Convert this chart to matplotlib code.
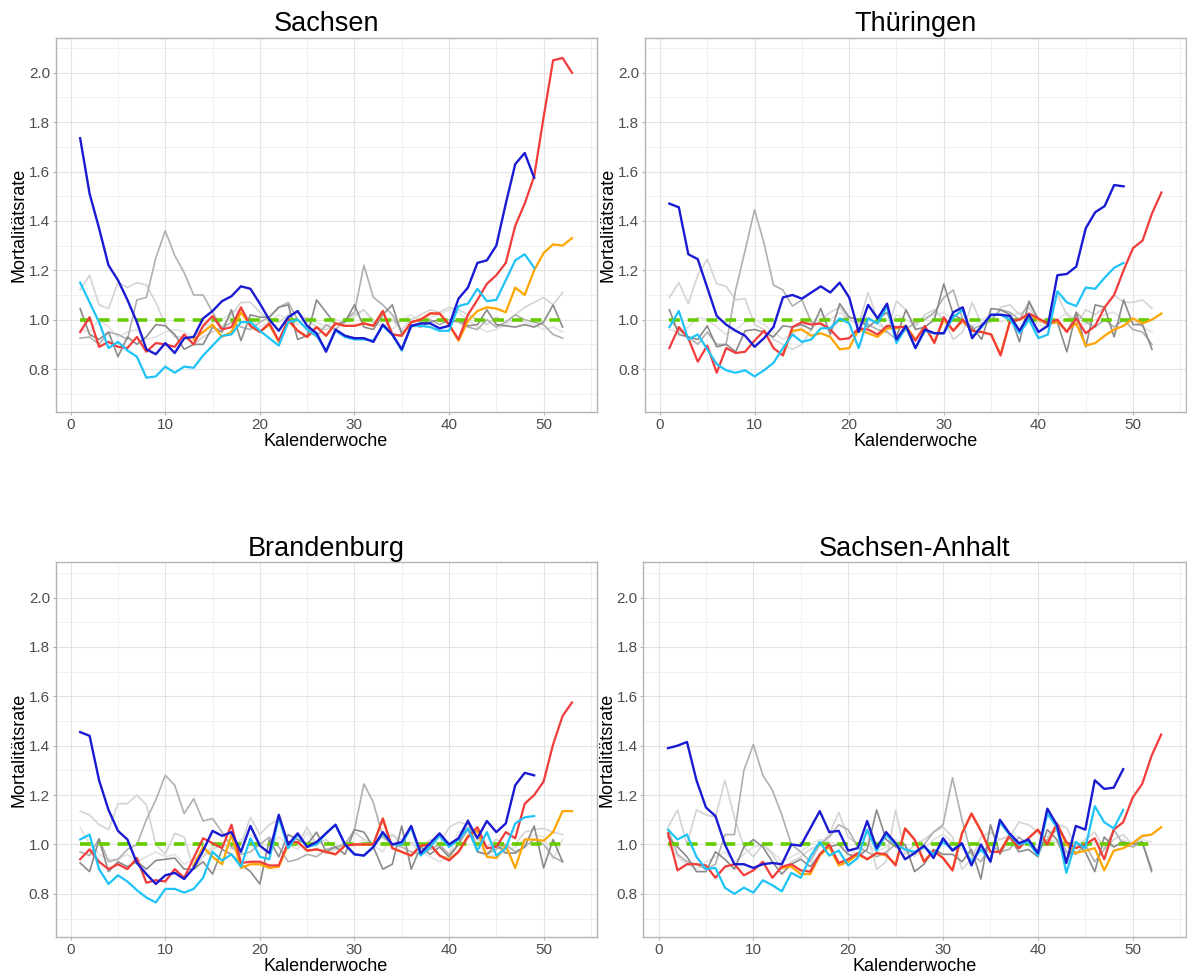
import numpy as np
import matplotlib
matplotlib.use("Agg")
import matplotlib.pyplot as plt

plt.rcParams['font.family'] = ['Liberation Sans', 'DejaVu Sans']

# ---- Sachsen ----
s_blue = [1.735,1.51,1.37,1.22,1.16,1.08,0.99,0.88,0.86,0.905,
          0.865,0.925,0.93,1.005,1.035,1.075,1.095,1.135,1.125,1.065,
          1.0,0.955,1.01,1.035,0.975,0.945,0.87,0.96,0.935,0.925,
          0.925,0.91,0.98,0.94,0.88,0.975,0.985,0.985,0.965,0.975,
          1.085,1.13,1.23,1.24,1.30,1.47,1.63,1.675,1.575]
s_cyan = [1.15,1.07,0.99,0.885,0.91,0.875,0.85,0.765,0.77,0.81,
          0.785,0.81,0.805,0.855,0.895,0.935,0.94,0.99,0.99,0.955,
          0.925,0.895,0.99,1.0,0.96,0.935,0.875,0.955,0.93,0.92,
          0.92,0.915,0.975,0.94,0.875,0.975,0.975,0.97,0.955,0.955,
          1.055,1.065,1.125,1.075,1.08,1.16,1.24,1.265,1.21]
s_red = [0.95,1.01,0.89,0.91,0.89,0.885,0.93,0.87,0.905,0.9,
         0.89,0.94,0.9,0.975,1.015,0.96,0.97,1.05,0.975,0.95,
         0.985,0.915,1.0,0.955,0.93,0.97,0.935,0.985,0.975,0.975,
         0.985,0.975,1.035,0.94,0.935,0.99,1.0,1.025,1.025,0.98,
         0.92,1.02,1.08,1.145,1.18,1.23,1.38,1.47,1.58,1.82,
         2.05,2.06,2.0]
s_orange = [0.92,0.95,0.98,0.93,0.95,1.03,0.975,0.95,0.98,0.91,
            0.995,0.955,0.93,0.97,0.935,0.985,0.975,0.975,0.985,0.975,
            1.035,0.94,0.935,0.99,1.0,1.025,1.025,0.98,0.915,0.995,
            1.035,1.05,1.045,1.03,1.13,1.10,1.20,1.27,1.305,1.30,1.33]
s_grey1 = [1.12,1.18,1.06,1.045,1.15,1.13,1.15,1.14,1.07,0.98,
           0.93,0.93,0.9,0.93,0.95,0.97,1.02,1.07,1.07,1.03,
           1.0,0.99,1.02,1.03,1.0,0.97,0.96,0.98,1.0,1.02,
           1.04,0.99,0.97,1.0,0.96,1.0,1.02,1.04,1.03,1.05,
           1.04,1.02,1.0,0.98,1.01,0.99,1.02,1.05,1.07,1.09,1.06,1.11]
s_grey2 = [0.925,0.93,0.9,0.95,0.94,0.92,1.08,1.09,1.25,1.36,
           1.26,1.19,1.1,1.1,1.03,0.965,0.99,0.97,0.96,0.99,
           1.01,1.05,1.07,1.0,0.96,0.93,0.98,0.96,1.0,1.03,
           1.22,1.09,1.06,1.02,0.95,0.97,0.98,1.0,0.98,1.0,
           0.99,0.97,0.96,1.0,0.97,0.99,1.02,1.0,0.99,0.98,0.94,0.925]
s_grey3 = [1.045,0.94,0.92,0.95,0.85,0.93,0.9,0.93,0.98,0.975,
           0.94,0.88,0.9,0.9,0.97,0.95,1.04,0.915,1.02,1.01,
           1.01,1.05,1.06,0.92,0.935,1.08,1.03,0.98,0.99,1.06,
           0.97,0.96,1.02,1.06,0.94,0.98,0.97,0.99,1.0,0.985,
           1.0,0.975,0.98,1.04,0.98,0.975,0.97,0.98,0.97,0.99,1.06,0.97]
s_grey4 = [0.96,0.95,1.0,0.97,0.93,0.95,0.96,0.92,0.93,0.95,
           0.96,0.95,0.93,0.97,0.99,1.0,1.03,1.04,1.0,0.97,
           0.99,1.02,1.0,0.98,1.01,0.99,0.97,1.0,0.99,1.01,
           1.04,1.0,0.98,0.96,1.0,1.02,0.99,1.01,1.02,1.04,
           1.03,1.0,0.97,0.95,0.96,0.98,1.0,0.99,0.98,0.96,0.97,0.95]

# ---- Thüringen ----
t_blue = [1.47,1.455,1.265,1.245,1.13,1.015,0.98,0.955,0.935,0.89,
          0.925,0.97,1.09,1.10,1.085,1.11,1.135,1.11,1.15,1.09,
          0.95,1.06,1.005,1.065,0.92,0.975,0.885,0.96,0.945,0.945,
          1.03,1.05,0.925,0.975,1.02,1.02,1.015,0.955,1.02,0.95,
          0.975,1.18,1.185,1.215,1.37,1.435,1.46,1.545,1.54]
t_cyan = [0.97,1.035,0.92,0.94,0.88,0.82,0.795,0.785,0.795,0.77,
          0.795,0.825,0.885,0.94,0.91,0.92,0.965,0.965,1.005,0.985,
          0.885,1.005,0.985,1.055,0.905,0.97,0.885,0.955,0.945,0.945,
          1.01,1.04,0.93,0.97,1.02,1.02,1.0,0.945,1.0,0.925,
          0.94,1.115,1.07,1.055,1.13,1.125,1.17,1.21,1.23]
t_red = [0.885,0.97,0.925,0.83,0.895,0.785,0.885,0.865,0.87,0.915,
         0.955,0.885,0.855,0.97,0.99,0.98,0.985,0.96,0.92,0.925,
         0.965,0.96,0.94,0.975,0.97,0.97,0.915,0.975,0.905,1.01,
         0.955,1.0,0.955,0.95,0.94,0.855,0.995,1.0,1.025,1.005,
         0.985,1.0,0.95,1.005,0.945,0.975,1.05,1.1,1.2,1.29,
         1.32,1.43,1.515]
t_orange = [0.86,0.955,0.96,0.935,0.945,0.93,0.88,0.885,0.96,0.945,
            0.93,0.965,0.965,0.975,0.92,0.97,0.91,1.0,0.955,0.995,
            0.955,0.95,0.94,0.86,0.995,1.0,1.02,1.0,0.985,0.99,
            0.955,0.985,0.895,0.905,0.935,0.96,0.975,1.005,0.985,1.0,1.025]
t_grey1 = [1.09,1.15,1.065,1.18,1.245,1.145,1.135,1.08,1.085,0.98,
           0.96,0.92,0.9,0.88,0.9,0.96,1.0,1.03,1.05,1.0,
           0.98,1.11,1.0,0.95,1.075,1.04,0.97,1.02,1.04,1.0,
           0.92,0.95,1.07,0.98,0.99,1.05,1.06,1.02,1.05,0.99,
           1.0,1.1,1.02,0.98,1.04,1.02,1.05,1.1,1.07,1.07,1.08,1.045]
t_grey2 = [1.0,0.96,0.93,0.9,0.95,0.9,0.9,1.12,1.28,1.445,
           1.31,1.14,1.12,1.055,1.08,0.99,0.98,0.96,1.0,1.01,
           1.0,0.98,0.96,0.95,0.92,0.96,0.99,1.0,1.03,1.09,
           1.12,1.0,0.96,0.98,1.0,1.04,1.03,1.0,1.07,1.0,
           0.98,1.0,0.95,1.03,0.99,0.97,1.0,0.97,1.0,0.96,0.95,0.9]
t_grey3 = [1.04,0.94,0.93,0.92,0.975,0.89,0.9,0.87,0.955,0.96,
           0.95,0.93,0.975,0.97,0.98,0.96,1.045,0.94,1.065,1.01,
           1.0,0.97,1.0,1.03,0.93,1.04,0.96,0.97,1.0,1.145,
           1.02,1.0,0.97,0.92,1.045,1.04,1.02,0.91,1.075,1.0,
           0.98,0.99,0.87,1.03,0.89,1.06,1.05,0.93,1.08,0.98,0.98,0.88]
t_grey4 = [0.96,0.95,0.97,1.01,1.0,0.97,0.94,0.96,0.99,1.0,
           0.98,0.95,0.92,0.94,0.97,0.99,1.02,1.0,1.03,1.0,
           0.99,1.01,0.98,0.96,1.02,1.0,0.98,1.01,1.02,1.03,
           1.0,0.98,0.97,1.0,1.02,0.99,1.01,1.03,1.0,0.98,
           0.97,1.0,1.03,0.99,0.98,1.0,1.02,1.03,1.0,1.0,0.97,0.95]

# ---- Brandenburg ----
b_blue = [1.455,1.44,1.26,1.14,1.055,1.02,0.925,0.88,0.84,0.875,
          0.885,0.86,0.905,0.975,1.055,1.035,1.05,0.97,1.075,0.995,
          0.965,1.12,1.0,1.045,0.99,1.01,1.045,1.08,1.0,0.96,
          0.955,0.99,1.05,1.0,1.01,1.075,0.965,1.005,1.045,1.0,
          1.025,1.095,1.025,1.095,1.05,1.085,1.24,1.29,1.28]
b_cyan = [1.02,1.04,0.9,0.84,0.875,0.85,0.815,0.785,0.765,0.82,
          0.82,0.805,0.82,0.865,0.97,0.935,0.96,0.91,1.025,0.95,
          0.94,1.11,0.985,1.04,0.99,1.0,1.045,1.08,1.0,0.96,
          0.955,0.99,1.045,1.0,1.0,1.07,0.955,0.99,1.035,0.99,
          1.02,1.065,0.975,1.05,0.955,0.985,1.085,1.11,1.115]
b_red = [0.94,0.98,0.93,0.9,0.92,0.9,0.945,0.845,0.855,0.85,
         0.9,0.865,0.945,1.025,1.005,0.985,1.08,0.925,0.93,0.93,
         0.915,0.915,1.01,1.01,0.975,0.98,0.97,0.96,0.995,1.0,
         1.0,1.0,1.105,0.985,0.97,0.955,0.995,1.0,0.955,0.935,
         0.97,1.03,1.07,0.985,0.99,1.05,1.025,1.165,1.2,1.255,
         1.405,1.52,1.575]
b_orange = [0.915,0.99,0.95,0.92,1.04,0.905,0.92,0.92,0.905,0.91,
            1.0,1.01,0.975,0.98,0.97,0.96,0.995,1.0,1.0,1.0,
            1.105,0.985,0.97,0.955,0.995,1.0,0.955,0.94,0.97,1.035,
            1.055,0.95,0.945,0.995,0.905,1.02,1.02,1.015,1.05,1.135,1.135]
b_grey1 = [1.135,1.12,1.08,1.06,1.165,1.165,1.2,1.16,1.0,0.96,
           1.045,1.03,0.9,0.95,0.98,1.0,0.99,1.0,1.11,1.04,
           1.08,1.1,0.99,1.0,1.07,1.0,1.02,0.98,1.0,1.05,
           1.02,1.0,1.03,1.04,1.0,1.01,0.98,1.02,1.0,1.07,
           1.09,1.08,1.02,0.99,1.02,1.0,1.0,1.05,1.06,1.065,1.05,1.04]
b_grey2 = [0.97,0.955,1.025,0.93,0.94,0.98,1.0,1.1,1.18,1.28,
           1.24,1.125,1.185,1.095,1.105,1.05,0.99,0.96,0.97,1.0,
           1.03,0.99,0.93,0.94,0.96,0.95,0.98,0.99,1.0,1.06,
           1.245,1.17,1.03,1.0,0.99,0.97,0.96,0.98,1.0,0.96,
           1.0,1.06,0.97,0.96,0.98,1.0,0.97,0.99,1.02,1.0,0.95,0.93]
b_grey3 = [0.925,0.89,1.02,0.89,0.93,0.91,0.93,0.9,0.935,0.94,
           0.945,0.9,0.9,0.93,0.88,0.98,0.96,0.92,0.89,0.84,
           1.02,0.95,1.04,1.02,1.0,1.05,0.97,0.99,0.96,1.06,
           1.05,0.99,0.9,0.92,1.075,0.9,0.99,0.96,0.99,0.95,
           1.0,1.1,0.97,0.96,1.0,0.965,0.965,0.99,1.075,0.905,1.02,0.93]
b_grey4 = [1.07,1.0,0.96,0.94,0.94,0.96,0.93,0.95,0.97,0.95,
           0.96,0.92,0.94,0.96,0.99,1.0,0.98,1.02,1.04,1.01,
           0.99,1.03,1.0,0.98,1.05,0.99,0.96,0.98,1.01,0.99,
           1.02,1.0,0.97,1.04,1.02,1.0,0.97,0.95,0.93,0.96,
           1.05,1.07,1.0,0.96,0.95,0.97,0.99,1.02,1.04,1.03,0.94,1.02]

# ---- Sachsen-Anhalt ----
a_blue = [1.39,1.4,1.415,1.26,1.15,1.115,1.0,0.92,0.92,0.905,
          0.92,0.925,0.92,1.0,0.995,1.065,1.135,1.05,1.055,0.975,
          0.985,1.095,0.985,1.05,1.005,0.94,0.965,0.995,0.945,1.025,
          0.975,1.005,0.915,1.0,0.93,1.1,1.045,1.005,1.02,0.965,
          1.145,1.08,0.925,1.075,1.06,1.26,1.225,1.23,1.305]
a_cyan = [1.06,1.02,1.04,0.95,0.9,0.905,0.825,0.8,0.825,0.805,
          0.855,0.835,0.81,0.885,0.865,0.95,1.01,0.955,0.975,0.915,
          0.945,1.06,0.975,1.04,1.0,0.98,0.97,0.99,0.96,1.01,
          0.98,1.0,0.93,0.98,0.935,1.09,1.04,1.0,1.01,0.955,
          1.125,1.07,0.885,1.01,0.985,1.155,1.09,1.065,1.14]
a_red = [1.045,0.895,0.92,0.92,0.915,0.865,0.91,0.92,0.875,0.895,
         0.93,0.865,0.91,0.92,0.895,0.89,0.96,1.0,0.925,0.94,
         0.965,0.94,0.965,0.96,0.915,1.065,1.02,0.93,0.975,0.945,
         0.895,1.045,1.125,1.055,0.97,0.97,1.035,0.985,1.025,1.06,
         1.0,1.085,1.01,0.985,1.0,1.025,0.94,1.06,1.09,1.19,
         1.245,1.36,1.445]
a_orange = [0.905,0.91,0.88,0.88,0.955,0.99,0.915,0.93,0.96,0.94,
            0.965,0.955,0.92,1.065,1.02,0.93,0.975,0.945,0.895,1.045,
            1.125,1.055,0.97,0.97,1.035,0.985,1.025,1.06,1.0,1.085,
            1.0,0.965,0.975,0.985,0.895,0.975,0.985,1.005,1.035,1.04,1.07]
a_grey1 = [1.07,1.14,1.0,1.14,1.12,1.11,1.26,1.11,0.99,0.95,
           1.0,0.96,0.9,0.93,0.95,0.98,1.0,1.04,1.13,1.03,
           1.0,1.05,0.9,0.93,1.14,0.96,1.0,1.02,1.05,1.07,
           1.03,0.9,0.94,1.03,1.05,1.02,1.03,1.09,1.08,1.05,
           1.03,1.08,1.07,0.99,1.02,1.05,0.98,1.02,1.04,1.0,1.03,1.04]
a_grey2 = [1.06,0.96,0.93,0.92,0.9,0.92,1.04,1.04,1.3,1.405,
           1.28,1.22,1.12,1.0,0.97,0.93,1.0,1.03,1.08,1.06,
           0.99,0.97,0.95,0.97,1.0,0.98,0.96,1.0,1.05,1.08,
           1.27,1.1,0.96,0.93,1.0,0.97,0.98,1.03,1.0,0.97,
           1.02,1.06,0.97,0.96,1.0,0.93,0.98,1.06,1.0,0.99,1.01,0.9]
a_grey3 = [1.03,0.99,0.95,0.89,0.89,0.97,0.94,0.9,0.99,1.02,
           0.99,0.93,0.88,0.92,0.94,0.91,0.96,0.99,1.0,0.96,
           0.95,0.98,1.14,1.02,0.99,1.0,0.89,0.92,0.98,0.96,
           0.96,0.93,0.98,0.86,1.08,0.96,1.03,0.97,0.98,0.95,
           1.06,1.02,0.93,1.01,0.97,0.89,1.03,0.99,1.01,1.0,1.01,0.89]
a_grey4 = [1.0,0.95,0.92,0.9,0.93,0.95,0.97,0.93,0.96,0.99,
           1.0,0.97,0.93,0.95,0.97,1.0,1.02,1.01,1.0,0.98,
           0.96,1.0,0.97,0.99,1.02,1.0,0.95,0.98,1.02,1.04,
           1.01,0.98,0.96,0.97,1.0,1.02,1.04,1.03,1.0,0.98,
           1.02,1.01,0.96,0.97,0.99,1.01,1.0,0.99,1.02,1.0,1.02,1.01]

titles = ['Sachsen', 'Thüringen', 'Brandenburg', 'Sachsen-Anhalt']
orange_start = 13
ref_weeks = [1, 52]
ref_level = 1.0

panels = [
    (s_grey1, s_grey2, s_grey3, s_grey4, s_orange, s_red, s_cyan, s_blue),
    (t_grey1, t_grey2, t_grey3, t_grey4, t_orange, t_red, t_cyan, t_blue),
    (b_grey1, b_grey2, b_grey3, b_grey4, b_orange, b_red, b_cyan, b_blue),
    (a_grey1, a_grey2, a_grey3, a_grey4, a_orange, a_red, a_cyan, a_blue),
]

# axes rectangles in figure fraction (left, bottom, width, height)
rects = [
    (0.0468, 0.5776, 0.4558, 0.3838),
    (0.5432, 0.5776, 0.4560, 0.3838),
    (0.0468, 0.0399, 0.4558, 0.3838),
    (0.5420, 0.0399, 0.4570, 0.3838),
]

grey_cols = ['#d4d4d4', '#b0b0b0', '#8a8a8a', '#e2e2e2']

fig = plt.figure(figsize=(11.87, 9.76), dpi=100)

for title, rect, data in zip(titles, rects, panels):
    g1, g2, g3, g4, orange, red, cyan, blue = data
    ax = fig.add_axes(rect)

    # grey reference years
    for vals, c in zip([g4, g1, g2, g3], [grey_cols[3], grey_cols[0], grey_cols[1], grey_cols[2]]):
        ax.plot(np.arange(1, len(vals) + 1), vals, color=c, lw=1.2, zorder=2)

    ax.plot(ref_weeks, [ref_level, ref_level], color='#66cc00', lw=2.6,
            dashes=(3.0, 2.2), zorder=3)

    ax.plot(np.arange(orange_start, orange_start + len(orange)), orange,
            color='#ffa500', lw=1.6, zorder=4)
    ax.plot(np.arange(1, len(red) + 1), red, color='#f23b3b', lw=1.6, zorder=5)
    ax.plot(np.arange(1, len(cyan) + 1), cyan, color='#1ec3f8', lw=1.6, zorder=6)
    ax.plot(np.arange(1, len(blue) + 1), blue, color='#1a1ad2', lw=1.7, zorder=7)

    ax.set_xlim(-1.6, 55.6)
    ax.set_ylim(0.625, 2.142)
    ax.set_xticks(np.arange(0, 51, 10))
    ax.set_xticks(np.arange(5, 56, 10), minor=True)
    yt = np.arange(0.8, 2.01, 0.2)
    ax.set_yticks(yt)
    ax.set_yticklabels(['%.1f' % v for v in yt])
    ax.set_yticks(np.arange(0.7, 2.11, 0.2), minor=True)

    ax.grid(which='major', color='#e3e3e3', lw=0.8)
    ax.grid(which='minor', color='#f0f0f0', lw=0.7)
    ax.set_axisbelow(True)

    for sp in ax.spines.values():
        sp.set_color('#b3b3b3')
        sp.set_linewidth(1.0)

    ax.tick_params(which='major', length=2.5, width=0.8, color='#b3b3b3',
                   labelsize=11, labelcolor='#4d4d4d', pad=1.5)
    ax.tick_params(which='minor', length=0)

    ax.set_title(title, fontsize=19.5, pad=5)
    ax.set_xlabel('Kalenderwoche', fontsize=13, labelpad=1)
    ax.set_ylabel('Mortalitätsrate', fontsize=13, labelpad=1)

fig.savefig('out.png', dpi=100)
